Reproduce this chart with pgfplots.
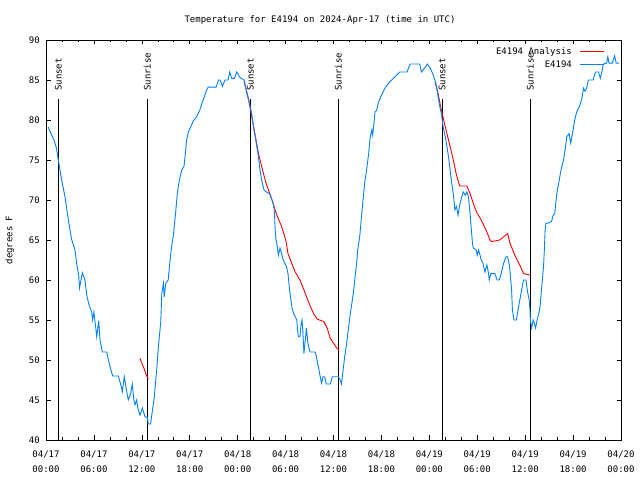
\documentclass[border=0pt]{standalone}
\usepackage{pgfplots}
\pgfplotsset{compat=1.18}
\usepackage{fontspec}
\setmainfont{DejaVu Sans Mono}
\newfontfamily\gp{DejaVu Sans Mono}
\definecolor{gpblue}{RGB}{0,128,255}
\definecolor{gpred}{RGB}{255,0,0}
\begin{document}
\begin{tikzpicture}[x=1bp,y=1bp]
\fill[white,use as bounding box] (0,0) rectangle (640,480);
\begin{axis}[
  at={(46bp,40bp)}, anchor=south west,
  scale only axis, width=575bp, height=400bp,
  xmin=0, xmax=72, ymin=40, ymax=90,
  xtick={0,6,...,72},
  xticklabels={04/17\\00:00,04/17\\06:00,04/17\\12:00,04/17\\18:00,04/18\\00:00,04/18\\06:00,04/18\\12:00,04/18\\18:00,04/19\\00:00,04/19\\06:00,04/19\\12:00,04/19\\18:00,04/20\\00:00},
  minor xtick={2,4,8,10,14,16,20,22,26,28,32,34,38,40,44,46,50,52,56,58,62,64,68,70},
  ytick={40,45,...,90},
  tick align=inside,
  major tick length=4.5bp, minor tick length=2.5bp,
  tick style={black, line width=0.6bp},
  axis line style={line width=0.8bp},
  font=\gp\fontsize{9bp}{14bp}\selectfont,
  /pgf/number format/assume math mode=true,
  xticklabel style={align=center, inner sep=0pt, yshift=-11bp, font=\gp\fontsize{9bp}{15bp}\selectfont},
  yticklabel style={inner sep=0pt, xshift=-6bp},
  unbounded coords=jump,
  legend plot pos=right,
  legend cell align=right,
  legend image code/.code={\draw[#1] (0bp,0bp) -- (24bp,0bp);},
  legend style={draw=none, fill=none, at={(1,1)}, anchor=north east,
    xshift=-16bp, yshift=-7bp, inner sep=0pt, column sep=8bp, row sep=4bp,
    nodes={inner sep=0pt, text height=7bp, text depth=2bp},
    font=\gp\fontsize{9bp}{11bp}\selectfont},
]
% sunrise / sunset lines
\addplot[black, line width=0.8bp, forget plot] coordinates {(1.55,40) (1.55,82.6)};
\addplot[black, line width=0.8bp, forget plot] coordinates {(12.69,40) (12.69,82.6)};
\addplot[black, line width=0.8bp, forget plot] coordinates {(25.6,40) (25.6,82.6)};
\addplot[black, line width=0.8bp, forget plot] coordinates {(36.6,40) (36.6,82.6)};
\addplot[black, line width=0.8bp, forget plot] coordinates {(49.6,40) (49.6,82.6)};
\addplot[black, line width=0.8bp, forget plot] coordinates {(60.65,40) (60.65,82.6)};
\node[rotate=90, anchor=west, inner sep=0pt, xshift=1bp] at (axis cs:1.55,83.5) {Sunset};
\node[rotate=90, anchor=west, inner sep=0pt, xshift=1bp] at (axis cs:12.69,83.5) {Sunrise};
\node[rotate=90, anchor=west, inner sep=0pt, xshift=1bp] at (axis cs:25.6,83.5) {Sunset};
\node[rotate=90, anchor=west, inner sep=0pt, xshift=1bp] at (axis cs:36.6,83.5) {Sunrise};
\node[rotate=90, anchor=west, inner sep=0pt, xshift=1bp] at (axis cs:49.6,83.5) {Sunset};
\node[rotate=90, anchor=west, inner sep=0pt, xshift=1bp] at (axis cs:60.65,83.5) {Sunrise};
% analysis
\addplot[gpred, line width=0.9bp] coordinates {
(11.77,50.2) (12.0,49.6) (12.25,49.0) (12.5,48.3) (12.8,47.6)
(12.9,nan)
(24.8,84.8) (25.3,82.9) (25.6,81.25) (25.96,79.4) (26.3,77.5) (26.6,75.8) (27.0,74.2) (27.55,72.1)
(28.3,70) (28.9,68.1) (29.5,66.7) (29.9,65.4) (30.1,64.6) (30.3,63.3) (30.76,62.1) (31.2,61.0)
(31.8,60) (32.2,59) (32.85,57.3) (33.5,55.8) (33.97,55.1) (34.8,54.8) (35.2,54) (35.6,52.7)
(36.0,52.1) (36.4,51.5) (36.7,51.25)
(36.8,nan)
(48.7,84.8) (49.1,83.3) (49.4,81.7) (49.75,80.2) (50.2,78.3) (50.6,76.7) (51.0,75) (51.4,73.1)
(51.8,71.75) (52.7,71.75) (53.1,70.8) (53.5,69.6) (53.9,68.5) (54.5,67.5) (55.2,66.0) (55.6,65)
(55.8,64.8) (56.8,65) (57.3,65.4) (57.8,65.8) (58.1,64.6) (58.7,63.1) (59.4,61.7) (59.8,60.8)
(60.2,60.7) (60.7,60.6)
};
\addlegendentry{E4194 Analysis}
% observations
\addplot[gpblue, line width=0.9bp] coordinates {
(0.29,79.1) (0.71,78.1) (1.0,77.5) (1.3,76.5) (1.54,75) (1.96,72.5) (2.38,70.4) (2.8,67.5)
(3.2,65.1) (3.63,63.75) (3.84,62.1) (4.1,60.5) (4.2,59.0) (4.55,60.9) (4.88,60) (5.1,58.1)
(5.38,56.9) (5.72,56.0) (5.84,55) (6.0,56.0) (6.26,53.75) (6.35,52.9) (6.6,54.9) (6.76,52.5)
(7.05,51) (7.6,51) (8.0,49.2) (8.35,48) (9.06,48) (9.47,46.5) (9.55,46.0) (9.8,47.9)
(10.0,46.7) (10.3,45) (10.6,45.8) (10.8,47) (11.0,45) (11.15,44.4) (11.35,45) (11.56,43.75)
(11.77,43.1) (12.06,44) (12.4,42.9) (12.69,42.8) (12.8,42.0) (13.1,42) (13.3,43.5) (13.56,45.4)
(13.86,48.75) (14.06,51.5) (14.37,54.8) (14.5,58.3) (14.7,59.6) (14.8,57.9) (15.0,59.6) (15.3,60)
(15.5,62.1) (15.7,64) (15.94,65.5) (16.24,68.5) (16.44,70.8) (16.7,72.5) (17.0,73.75) (17.28,74.2)
(17.49,76.25) (17.6,77.5) (17.83,78.5) (18.1,79.1) (18.45,79.9) (18.86,80.4) (19.28,81.3) (19.57,82.2)
(19.9,83.1) (20.1,83.75) (20.3,84.1) (21.3,84.1) (21.6,85) (21.8,85) (22.1,84.2) (22.4,85)
(22.8,85) (23.0,86) (23.25,85.2) (23.6,85.2) (23.88,86) (24.3,85.3) (24.8,85) (24.9,84.6)
(25.1,83.5) (25.5,82.0) (25.76,80.8) (25.96,79.2) (26.2,77.9) (26.4,76.7) (26.6,75.4) (26.8,73.75)
(27.0,72.5) (27.3,71.25) (27.6,71) (28.0,70.8) (28.3,70) (28.5,69.4) (28.6,68.5) (28.7,66.25)
(28.8,65) (28.9,64.6) (29.1,63.1) (29.3,64) (29.5,63.3) (29.7,62.5) (29.9,62.1) (30.1,61.7)
(30.3,60.8) (30.5,58.75) (30.8,56.5) (31.0,55.8) (31.2,55.4) (31.4,55) (31.5,53.75) (31.6,52.9)
(31.8,52.9) (31.93,54.4) (32.06,55) (32.15,53.75) (32.3,50.8) (32.4,51.9) (32.55,53.3) (32.6,54)
(32.8,52.1) (33.06,51) (33.7,51) (33.85,50.5) (33.97,49.8) (34.1,49.2) (34.3,48.1) (34.5,47.1)
(34.7,47.9) (34.9,47.9) (35.1,47) (35.6,47) (35.85,47.9) (36.6,47.9) (36.8,47.6) (37.0,47)
(37.2,48.75) (37.4,50.4) (37.65,52.1) (37.85,53.75) (38.05,55.4) (38.3,57.1) (38.5,58.5) (38.7,60.4)
(38.9,62.1) (39.03,63.75) (39.3,65.6) (39.5,67.9) (39.7,70) (39.9,72.1) (40.2,74.2) (40.4,75.8)
(40.6,77.9) (40.8,78.75) (40.9,78.1) (41.0,79) (41.2,81) (41.4,81.2) (41.6,82.1) (42.0,83.1)
(42.45,84) (42.9,84.6) (43.3,85) (43.7,85.4) (44.3,86) (45.2,86) (45.6,87) (46.8,87)
(47.0,86) (47.2,86.25) (47.5,86.6) (47.75,87) (48.1,86.5) (48.5,85.6) (48.7,85) (48.9,84.2)
(49.1,82.9) (49.3,81.7) (49.5,80.8) (49.75,79) (50.0,77.9) (50.2,76.7) (50.4,75.4) (50.6,73.75)
(50.8,72.1) (51.0,70.8) (51.2,68.75) (51.4,69.2) (51.6,68.1) (51.8,69.4) (52.06,70.4) (52.25,71)
(52.5,70.6) (52.7,71) (52.9,70.4) (53.1,68.3) (53.3,65.8) (53.4,64.6) (53.5,64) (53.85,63.75)
(54.0,63.1) (54.15,63.75) (54.3,63.3) (54.5,62.5) (54.7,62.1) (54.97,61.0) (55.2,61.9) (55.35,61.2)
(55.5,60) (55.7,60.8) (56.2,60.8) (56.5,60) (56.75,60) (57.0,60.8) (57.3,62.1) (57.6,62.9)
(57.8,62.9) (58.05,61.7) (58.3,58.75) (58.4,56.25) (58.6,55) (58.9,55) (59.1,56.25) (59.4,57.9)
(59.6,59) (59.8,60) (60.1,60) (60.3,58.5) (60.5,57.5) (60.6,56.25) (60.65,55) (60.8,54)
(61.0,55) (61.15,54.6) (61.3,54) (61.5,55) (61.7,55.8) (61.86,56.7) (62.0,58.3) (62.15,60)
(62.3,61.7) (62.4,63.75) (62.5,66.25) (62.6,67.1) (62.9,67.1) (63.3,67.3) (63.5,68.1) (63.7,68.3)
(63.96,70.8) (64.2,72.1) (64.4,73.3) (64.6,74.2) (64.8,75) (65.0,76.25) (65.2,77.9) (65.5,78.3)
(65.7,77.1) (66.0,78.75) (66.2,80) (66.45,81) (66.8,81.7) (67.1,82.7) (67.3,84) (67.5,83.6)
(67.7,84) (67.9,85) (68.5,85) (68.8,86) (69.2,86) (69.4,85.2) (69.6,86) (69.8,87)
(70.2,87.1) (70.35,87.9) (70.5,87.1) (70.9,87.1) (71.2,88) (71.4,87.1) (71.75,87.1)
};
\addlegendentry{E4194}
\end{axis}
\node[font=\gp\fontsize{9bp}{11bp}\selectfont] at (320,460) {Temperature for E4194 on 2024-Apr-17 (time in UTC)};
\node[rotate=90, font=\gp\fontsize{9bp}{11bp}\selectfont] at (10,240) {degrees F};
\end{tikzpicture}
\end{document}
